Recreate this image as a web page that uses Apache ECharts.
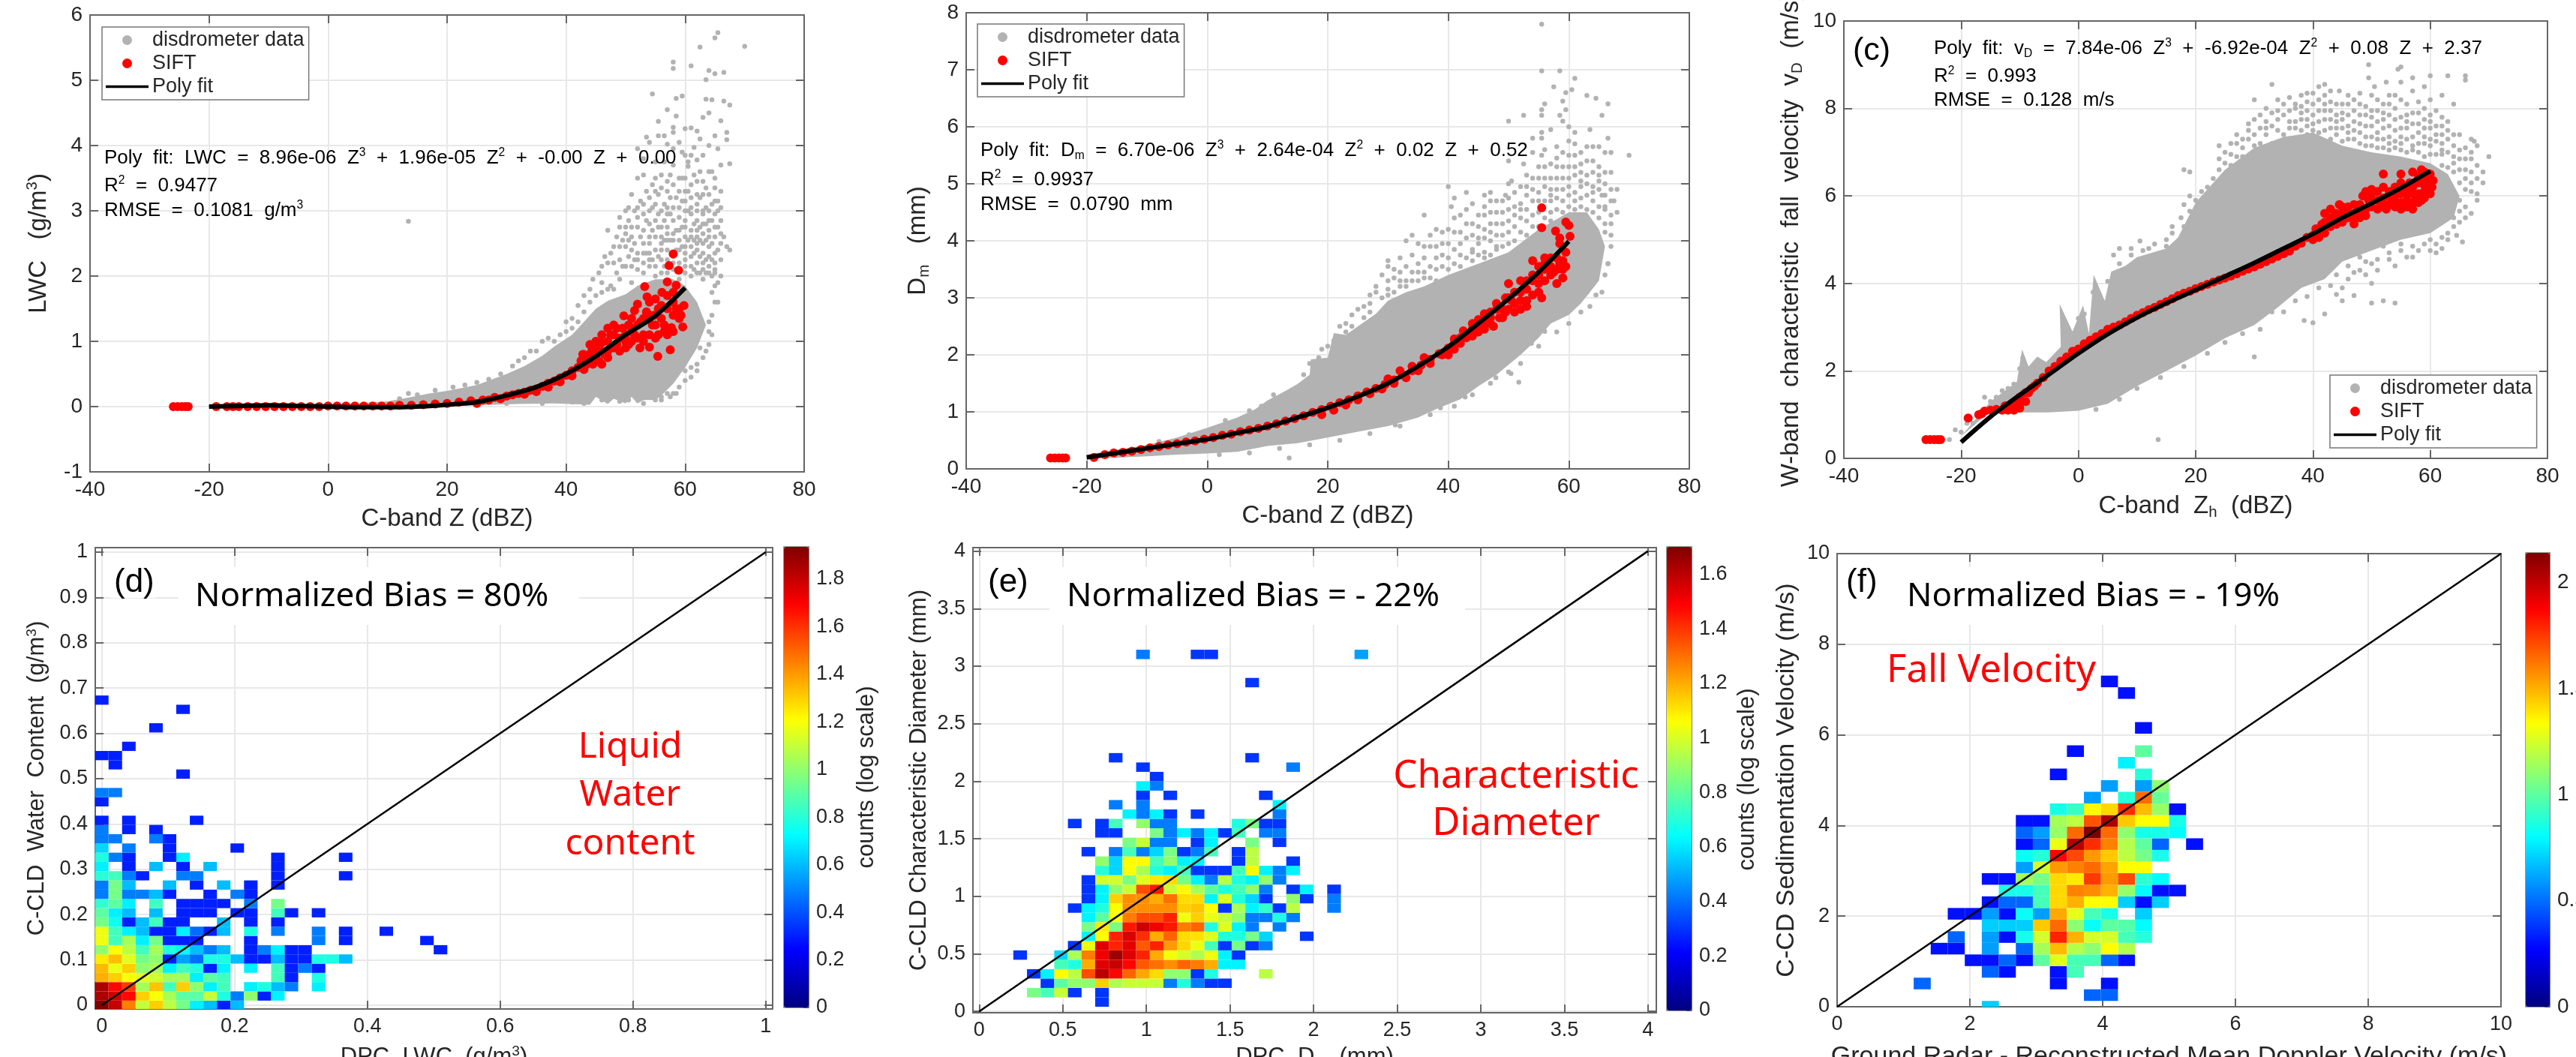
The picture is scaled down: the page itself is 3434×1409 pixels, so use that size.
<!DOCTYPE html>
<html><head><meta charset="utf-8">
<style>html,body{margin:0;padding:0;background:#fff;overflow:hidden}#c{width:3434px;height:1409px}</style>
<script src="https://cdn.jsdelivr.net/npm/echarts@6/dist/echarts.min.js"></script>
</head><body><div id="c"></div>
<script>
const LEGEND_NAMES = ['disdrometer data','SIFT','Poly fit'];

// Poly fit
const fitA = [[-20,0],[-15,.01],[-10,.02],[-5,.01],[0,0],[5,-.01],[10,-.01],[15,0],[20,.03],[25,.07],[30,.17],[35,.3],[40,.5],[45,.77],[50,1.1],[55,1.39],[60,1.82]];
const fitB = [[-20,.2],[-15,.28],[-10,.36],[-5,.44],[0,.52],[5,.63],[10,.74],[15,.9],[20,1.07],[25,1.27],[30,1.5],[35,1.8],[40,2.14],[45,2.55],[50,2.98],[55,3.45],[60,3.99]];
const fitC = [[-20,.37],[-15,.95],[-10,1.45],[-5,1.92],[0,2.4],[5,2.84],[10,3.22],[15,3.55],[20,3.85],[25,4.16],[30,4.47],[35,4.8],[40,5.13],[45,5.5],[50,5.83],[55,6.18],[60,6.57]];

// Dense part of the disdrometer cloud, outline
const coreA = [[-20,.02],[-5,.03],[5,.05],[10,.08],[13,.13],[17,.2],[20,.24],[25,.33],[30,.5],[33,.62],[36,.78],[38,.92],[41,1.1],[43,1.3],[45,1.5],[47,1.62],[50,1.72],[52,1.85],[55,1.95],[58,1.95],[60,1.85],[62,1.6],[63.5,1.25],[62,.9],[60,.6],[58,.35],[56,.17],[55,.1],[53,.1],[52,.05],[51,.15],[50,.05],[48,.12],[47,.04],[45,.15],[44,.03],[38,.05],[32,.04],[25,.02],[15,0],[0,-.01],[-20,-.01]];
const coreB = [[-20,.25],[-10,.42],[-5,.55],[0,.72],[5,.9],[8,1.05],[10,1.2],[13,1.37],[15,1.49],[17,1.65],[17.2,1.92],[20,1.95],[21,2.38],[23,2.35],[25,2.5],[28,2.72],[30,2.95],[33,3.1],[36,3.2],[40,3.4],[45,3.6],[50,3.8],[55,4.2],[60,4.5],[63,4.5],[65,4.2],[66,3.9],[65,3.3],[62,2.9],[60,2.7],[57,2.55],[55,2.3],[52,2.0],[48,1.65],[45,1.45],[42,1.22],[38,1.05],[35,.9],[30,.75],[25,.65],[20,.55],[15,.45],[10,.4],[5,.3],[0,.27],[-5,.25],[-10,.22],[-20,.17]];
const coreC = [[-20,.5],[-15,1.3],[-13,1.5],[-10.5,1.75],[-9.6,2.49],[-8.5,2.1],[-7,2.33],[-5.5,2.2],[-3,2.55],[-3.2,3.53],[-1,2.9],[.8,3.5],[1.8,2.85],[2.6,4.2],[4.5,3.6],[5.6,4.27],[8,4.4],[10,4.6],[15,4.8],[17,5.05],[20,5.85],[25,6.6],[30,7.1],[35,7.35],[40,7.45],[45,7.15],[50,7],[55,6.9],[60,6.75],[63,6.5],[65,6],[64,5.5],[60,5.15],[55,5],[50,4.75],[45,4.5],[42,4.1],[38,3.9],[34,3.45],[30,3.05],[25,2.75],[20,2.35],[15,2],[10,1.65],[5,1.25],[0,1.09],[-5,1.05],[-10,1.05],[-12,1.05],[-14,1.2]];

// Scattered disdrometer points outside the dense part
const grayA = [[65.5,5.73],[65,5.65],[70,5.52],[62.5,5.51],[58,5.28],[58,5.18],[61,5.22],[64,5.15],[65,5.1],[66.5,5.12],[63.5,5.01],[54.5,4.79],[59.5,4.76],[58.5,4.72],[63.5,4.71],[64.5,4.7],[66.5,4.68],[67.5,4.62],[57,4.55],[64,4.5],[58.5,4.45],[63,4.43],[55.5,4.37],[66,4.38],[58,4.28],[60,4.26],[61,4.27],[62,4.22],[58,4.2],[67,4.2],[55.5,4.15],[56.5,4.15],[53.5,4.13],[62.5,4.1],[67,4.09],[54,4.05],[57,4.02],[61.5,3.97],[65.5,3.95],[59.5,3.9],[52,3.95],[61,3.85],[53,3.8],[58,3.7],[60.5,3.68],[62,3.78],[67.5,3.72],[64,3.6],[56,3.55],[65,3.5],[52,3.5],[55,3.5],[60,3.5],[62,3.45],[57,3.45],[61,3.4],[65,3.35],[59,3.3],[54,3.2],[57.5,3.2],[63,3.25],[60,3.15],[65.5,3.15],[50,3],[50.5,3.05],[52,3.05],[55,3.1],[57,3.05],[60,3],[62,3.1],[66,3.05],[13.5,2.84],[47,2.7],[50,2.75],[50,2.65],[51,2.6],[52,2.75],[53,2.95],[54,2.8],[54,2.6],[55,2.85],[56,2.75],[56,3],[57,2.65],[58,2.85],[58,2.55],[59,3.05],[59,2.7],[60,2.85],[60,2.6],[61,2.95],[61,2.7],[62,2.85],[62,2.6],[63,2.95],[63,2.65],[64,2.85],[64,3],[65,2.75],[65,2.95],[66,2.5],[67,2.45],[67.5,2.4],[64,2.45],[65,2.2],[63,2.35],[61,2.45],[59,2.4],[57,2.4],[55,2.4],[53,2.5],[51,2.4],[49,2.45],[50,2.45],[52,2.35],[54,2.35],[56,2.5],[58,2.3],[60,2.35],[62,2.4],[48,2.2],[47,2.2],[46,2.15],[49,2.25],[50,2.15],[52,2.25],[54,2.15],[56,2.25],[58,2.2],[60,2.25],[62,2.2],[64,2.15],[65,2.1],[65.5,1.9],[63,1.95],[61,2],[59,1.95],[57,2.05],[55,2],[53,2.05],[51,1.9],[49,1.95],[46,1.9],[44,1.8],[43,1.7],[42,1.55],[41,1.35],[40,1.3],[37,1.05],[36,1],[34,.85],[32,.7],[65,1.6],[64.5,1.4],[63,1.25],[64,1.15],[63.5,.85],[62,.65],[61,.45],[58.5,.2],[60,.75],[47,.1],[57.5,.15],[56,.1],[53,.05]];
const grayA2 = [[44.5,1.95],[45.5,2.05],[46.5,2.3],[47.5,2.35],[47.5,1.85],[48.5,2.05],[48.5,2.6],[49,2.75],[49.5,2.15],[49.5,2.55],[50.5,2.3],[50.5,2.85],[51,2.15],[51,2.75],[51.5,2.5],[51.5,3],[52,2.1],[52.5,2.6],[52.5,3.15],[53,2.2],[53,2.7],[53.5,2.35],[53.5,3.3],[54,2.5],[54,3],[54.5,2.25],[54.5,2.7],[54.5,3.4],[55,2.15],[55,2.6],[55.5,2.95],[55.5,3.25],[56,2.4],[56,2.6],[56.5,2.15],[56.5,2.85],[56.5,3.1],[57,2.25],[57,2.75],[57,3.3],[57.5,2.55],[57.5,2.95],[58,2.1],[58,3.05],[58,3.4],[58.5,2.4],[58.5,2.7],[59,2.2],[59,2.55],[59,2.9],[59.5,3.15],[59.5,3.5],[60,2.15],[60,2.45],[60,2.75],[60.5,3],[60.5,3.3],[61,2.15],[61,2.6],[61,3.2],[61.5,2.35],[61.5,2.8],[61.5,3.55],[62,2.05],[62,2.5],[62,3],[62.5,2.3],[62.5,2.75],[62.5,3.2],[63,2.1],[63,2.5],[63,3],[63.5,2.25],[63.5,2.8],[63.5,3.35],[64,2.3],[64,2.6],[64.5,2],[64.5,2.5],[64.5,3.1],[65,1.85],[65,2.35],[65,2.6],[65.5,2.75],[65.5,3],[66,2.25],[66,2.65],[64.5,1.75],[65.5,1.6],[64,1.3],[64.5,1.1],[64,.95],[63,.75],[62.5,.9],[62,.55],[61,.6],[60,.55],[60,.4],[59,.3],[58,.2],[57,.2],[56,.15],[55,.1],[54.5,.15],[52,.1],[50.5,.1],[49,.08],[47,.1],[46,.1],[43,.05],[41,.07],[36,.05],[30,.05],[43,1.45],[42,1.3],[41,1.2],[40,1.15],[39,1.1],[38,1],[35,.85],[33,.75],[31,.62],[29,.5],[27,.42],[25,.37],[23,.33],[21,.3],[18,.25],[15,.18],[13.5,.2],[12,.12],[44,1.6],[45,1.7],[46,1.75],[47,1.8],[48,1.8]];
const grayA3 = [[48,2.45],[49,2.9],[50.5,2.55],[51.5,2.25],[52,2.9],[53,3.1],[53,2.35],[53.5,2.85],[54,2.25],[54.5,3.05],[55,3.3],[55.5,2.3],[55.5,2.75],[56,2.05],[56,3.35],[56.5,2.55],[57,2.55],[57,2.95],[57.5,2.15],[57.5,3.55],[58,2.65],[58.5,3.2],[59,2.1],[59,3.5],[59.5,2.45],[59.5,2.75],[60,2.05],[60,3.3],[60.5,2.55],[60.5,3.75],[61,2.3],[61,3.05],[61.5,2.1],[61.5,2.55],[62,2.7],[62,3.25],[62.5,2.05],[62.5,2.55],[62.5,3.6],[63,2.2],[63,2.8],[63,3.45],[63.5,2.05],[63.5,2.55],[63.5,3.05],[64,2.05],[64,2.7],[64,3.25],[64.5,2.25],[64.5,2.85],[64.5,3.6],[65,2.05],[65,3.15],[65.5,2.4],[66,2],[66,2.85],[66.5,2.6],[66,3.3],[55,3.75],[56.5,3.75],[58,3.95],[59,4.05],[60,3.85],[63,3.85],[64,4],[65,4.15],[66,3.7],[53,3.55],[51,3.25]];
const grayB = [[55.5,7.8],[55.5,6.98],[58.5,6.98],[61,6.85],[57.5,6.7],[59.5,6.6],[60.5,6.65],[63,6.55],[64.5,6.5],[56,6.4],[59,6.45],[55.5,6.3],[55.5,6.2],[52.5,6.2],[58.5,6.2],[59.5,6.3],[59,6.1],[66.5,6.4],[65.5,6.2],[50,6.1],[55.5,5.9],[57,5.95],[60,6],[61,5.9],[63.5,5.95],[55.5,5.8],[54,5.8],[60,5.75],[66.5,5.8],[63,5.65],[65,5.65],[66,5.55],[54,5.55],[55.5,5.5],[58,5.45],[60,5.5],[61,5.5],[64,5.4],[67,5.55],[70,5.5],[50,5.4],[52.5,5.35],[56,5.3],[58,5.3],[59,5.3],[62,5.35],[65,5.3],[67,5.2],[53,5.15],[55,5.1],[57,5.1],[60,5.1],[62,5.2],[64,5.2],[66,5],[68,4.9],[50,5],[40,4.95],[50.5,5.05],[52,4.95],[54,4.9],[56,4.95],[58,4.9],[60,4.95],[62,4.95],[64,4.85],[65.5,4.8],[67,4.7],[47,4.85],[49.5,4.8],[41,4.75],[43,4.85],[46,4.8],[48,4.7],[40.5,4.6],[44,4.65],[46,4.6],[51,4.6],[53,4.55],[54,4.7],[57,4.7],[42,4.45],[45,4.45],[47,4.5],[49,4.5],[52,4.4],[55,4.5],[36,4.45],[41,4.4],[43,4.3],[45,4.25],[47,4.3],[49,4.3],[50,4.15],[53,4.35],[66,4.3],[67,4.1],[37,4.1],[39,4.15],[41,4.15],[44,4.1],[46,4.05],[48,4.1],[33,4],[35,3.95],[37,3.9],[39,3.95],[42,3.95],[44,3.85],[46,3.8],[48,3.9],[50,3.95],[30,3.65],[30,3.55],[32,3.7],[34,3.75],[36,3.7],[38,3.7],[40,3.7],[42,3.75],[44,3.65],[32,3.45],[34,3.45],[36,3.45],[38,3.5],[28,3.2],[30,3.3],[31,3.35],[33,3.3],[35,3.3],[37,3.35],[27,2.9],[28,3.1],[26,2.85],[25,2.8],[24,2.7],[23,2.55],[22,2.5],[50.4,1.67],[51.7,1.52],[38.7,1.07],[31.2,.77],[13.6,.19],[42.8,1.26],[50.6,1.96],[47.9,1.6],[56,2.41],[53.8,2.2],[64,3.3],[63,3.1],[66.5,3.6]];
const grayB2 = [[29,3],[30,3.05],[31,3.1],[32,3.2],[33,3.2],[34,3.3],[35,3.45],[36,3.35],[37,3.55],[38,3.3],[39,3.55],[40,3.5],[41,3.6],[42,3.55],[43,3.7],[44,3.8],[45,3.75],[45,3.95],[46,3.7],[46,4.2],[47,3.75],[47,4],[48,3.85],[48,4.3],[49,3.9],[49,4.1],[50,4.35],[50,4.55],[51,4],[51,4.25],[52,4.15],[52,4.65],[53,4.1],[53,4.8],[54,4.25],[54,4.45],[55,4.25],[55,4.7],[56,4.4],[56,4.7],[57,4.35],[57,4.5],[57,4.9],[58,4.55],[58,4.75],[59,4.5],[59,4.7],[59,5.1],[60,4.6],[60,4.8],[61,4.55],[61,4.7],[61,5.15],[62,4.6],[62,4.75],[63,4.55],[63,4.8],[63,5],[64,4.5],[64,4.7],[65,4.4],[65,4.6],[65,5.05],[66,4.15],[66,4.55],[66,4.8],[67,3.9],[67,4.45],[67.5,4.7],[66.5,3.6],[66,3.4],[65.5,3.1],[64.5,3.05],[63.5,2.85],[62,2.75],[60,2.55],[58,2.4],[55,2.15],[52,1.85],[50,1.7],[47,1.5],[44,1.3],[41,1.1],[37,.95],[32,.75],[27,.62],[22,.5],[17,.42],[12,.36],[7,.28],[2,.25],[16,1.65],[17,1.85],[18,1.75],[18.5,1.95],[19,2.1],[20,2.15],[21,2.25],[22,2.3],[23,2.4],[24,2.5],[26,2.65],[27,2.75],[11,1.3],[9,1.1],[7,1.02],[3,.85],[-3,.6],[-8,.48]];
const grayB3 = [[38,3.9],[40,3.95],[41,3.85],[43,4.05],[43,4.55],[44,4.3],[45,4.05],[46,4.45],[47,4.15],[47,4.7],[48,4.5],[49,4.7],[50,4.75],[51,4.45],[51,4.85],[52,4.55],[53,4.95],[54,5.1],[55,4.85],[55,5.3],[56,5.1],[56,5.6],[57,4.8],[57,5.35],[58,5.1],[58,5.65],[59,4.9],[59,5.55],[60,5.3],[61,4.85],[61,5.3],[61,5.7],[62,5.05],[62,5.55],[63,5.15],[63,5.4],[64,4.95],[64,5.65],[65,4.9],[65,5.15],[66,5.2],[66,4.6],[67,4.9],[34,4.1],[35,3.6],[36,3.9],[38,4.2],[39,3.75],[40,4.2],[42,4.15],[33,3.55],[31,3.5],[29,3.4],[30,3.15],[32,3.3],[27,3.05],[67,4.3],[68,4.5]];
const grayC = [[49.5,9],[49.5,8.7],[54.5,8.9],[55,8.95],[50.5,8.5],[52.5,8.6],[55,8.6],[57,8.7],[60,8.75],[59,8.5],[63,8.75],[66,8.75],[66,8.65],[33,8.55],[41,8.5],[42,8.55],[39,8.35],[42,8.3],[44.5,8.4],[46,8.3],[48,8.1],[51,8.2],[53,8.3],[55,8.2],[57,8.4],[60,8.2],[62,8.3],[64,8.1],[30,8.2],[37,8],[40,8.1],[42,7.95],[45,7.9],[48,7.85],[50,7.95],[52,7.9],[54,8],[56,7.85],[58,7.9],[60,7.85],[62,7.8],[36,7.7],[38,7.75],[41,7.7],[43,7.75],[46,7.6],[49,7.6],[51,7.7],[53,7.6],[55,7.55],[57,7.65],[59,7.55],[61,7.6],[63,7.5],[65,7.4],[67,7.3],[29,7.65],[32,7.4],[34,7.5],[39,7.4],[44,7.4],[47,7.3],[50,7.35],[52,7.3],[54,7.25],[56,7.3],[58,7.2],[60,7.3],[62,7.2],[64,7.15],[66,7.1],[67.5,7.25],[68,7.15],[27,7.2],[24,7.15],[30,7.15],[26,6.95],[33,7.2],[37,7.3],[28,6.9],[62,6.95],[64,6.9],[66,6.85],[68,6.7],[70,6.9],[67,6.55],[65,6.6],[68,6.4],[69,6.3],[67,6.1],[65,5.9],[68,5.9],[67,5.6],[66,5.75],[64,5.5],[63,5.15],[64.5,5.1],[65.5,4.95],[62,4.8],[61,4.9],[58,4.75],[55,4.9],[57,4.6],[53,4.7],[51,4.55],[49,4.5],[47,4.25],[50,4],[47,3.72],[52,3.6],[54,3.55],[50,3.55],[45,3.9],[42,3.3],[40,3.1],[38.5,3.15],[30,2.32],[18,6.6],[19,6.55],[21,6.1],[19,6],[20,5.9],[18,5.8],[17.5,5.5],[19,5.35],[20,5.2],[15,5],[16,5.15],[17,4.9],[14,4.7],[10.5,4.97],[12,4.8],[9,4.8],[7,4.8],[6,4.65],[22,6.2],[23,6.4],[24,6.6],[22,5.9],[13.6,.43],[-20,.6],[-21,.65],[-19,.8],[-18,.8],[-17,1],[-16,1.4],[-15,1.3],[-14,1.4],[-13,1.55],[-12,1.6],[-11,1.7],[-22,.43]];
const grayC2 = [[22,6],[23,6.2],[24,6.35],[25,6.75],[26,6.7],[27,6.9],[28,7.1],[29,7.3],[30,7.4],[31,7.55],[31,7.2],[32,7.7],[33,7.6],[33,7.9],[34,7.75],[35,7.4],[35,7.85],[36,7.95],[37,7.55],[37,7.7],[38,7.5],[38,8.05],[39,7.6],[39,7.95],[40,7.5],[40,7.85],[41,7.45],[41,7.95],[42,7.5],[42,7.75],[43,7.3],[43,7.55],[43,8.15],[44,7.55],[44,7.85],[45,7.25],[45,7.55],[45,8.1],[46,7.3],[46,7.85],[47,7.5],[47,7.95],[48,7.2],[48,7.45],[49,7.15],[49,7.85],[50,7.15],[50,7.6],[51,7.1],[51,7.45],[52,7.1],[52,7.55],[53,7.05],[53,7.35],[53,7.85],[54,7.1],[54,7.5],[55,7.05],[55,7.35],[55,7.8],[56,7],[56,7.55],[57,7.05],[57,7.35],[58,7],[58,7.45],[59,6.9],[59,7.2],[59,7.75],[60,6.95],[60,7.55],[61,6.95],[61,7.25],[62,6.7],[62,7.4],[63,6.65],[63,7],[64,6.55],[64,6.75],[65,6.3],[66,6.4],[66,6.15],[67,6.3],[64,5.75],[65,5.4],[64,5.3],[62,5.05],[60,5],[60,4.75],[57,4.85],[55,4.75],[53,4.55],[52,4.85],[50,4.45],[48,4.6],[48,4.3],[46,4.4],[44,4.2],[43,3.95],[41,3.9],[39,3.7],[37,3.6],[35,3.35],[33,3.35],[31,2.95],[28,2.85],[25,2.65],[22,2.4],[18,2.1],[14,1.85],[10,1.6],[7,1.35],[3,1.12],[24,6],[22,5.7],[19,5.65],[18,5.3],[16,5.3],[15,4.85],[13,4.9],[11,4.75],[-9.5,2.3],[-10,2.05],[-6,2.15],[-2,2.8],[0,3.2],[1,3.3],[2.5,3.8],[5,4.05],[7,4.45],[9,4.65]];
const grayC3 = [[24,6.85],[25,7],[26,7.2],[27,7.4],[28,7.3],[29,7.5],[30,7.75],[31,7.85],[32,7.55],[32,8],[34,7.95],[34,8.2],[35,8.1],[36,7.55],[36,8.25],[37,8.1],[38,7.9],[38,8.3],[39,7.75],[39,8.15],[40,7.65],[40,8.35],[41,8.2],[42,8.1],[43,7.95],[43,8.4],[44,7.7],[44,8.1],[45,7.75],[46,7.45],[46,8.1],[47,7.7],[47,8.2],[48,7.65],[48,8.35],[49,7.35],[49,8.05],[50,7.8],[50,8.3],[51,7.95],[51,7.3],[52,7.75],[52,8.1],[53,7.2],[53,8.1],[54,7.75],[54,8.3],[55,7.2],[56,7.7],[56,8.1],[57,7.15],[57,7.9],[58,7.65],[58,8.15],[59,7.35],[59,8],[60,7.15],[60,7.7],[61,7.4],[61,7.95],[62,7.05],[62,7.6],[63,7.3],[63,7.7],[64,7.4],[65,7.05],[65,6.85],[66,6.6],[67,6.85],[67,7],[68,6.05],[69,6.55],[66,5.5],[65,5.65],[63,5],[61,4.7],[59,4.9],[56,4.6],[54,4.4],[51,4.3],[49,4.2],[46,4.1],[45,3.6],[44,3.75]];

// SIFT points
const siftA = [[-26,0],[-25.3,0],[-24.6,0],[-24,0],[-23.5,0],[-18.8,0],[-17,0],[-16,0],[-15,0],[-13.5,0],[-12,0],[-10.5,0],[-9,0],[-7.5,0],[-6,0],[-4.5,0],[-3,0],[-1.5,0],[0,.01],[1.5,.01],[3,.01],[4.5,.01],[6,.01],[7.5,.01],[9,.01],[10.5,.01],[12,.02],[14,.02],[16,.03],[18,.04],[20,.05],[22,.07],[24,.09],[26,.1],[28,.14],[30,.16],[31,.18],[32,.2],[33,.22],[34,.25],[35,.27],[36,.31],[37,.36],[38,.39],[39,.44],[40,.48],[41,.55],[42,.6],[42.5,.7],[43,.7],[43,.8],[44,.75],[44,.95],[45,.8],[45,1],[46,.65],[46,1.1],[46,.85],[47,1],[47,.85],[48,.9],[48,1.1],[48.5,1.2],[49,1.05],[49.7,1.39],[50,.9],[50,1.1],[50.5,1.25],[51,1],[51,1.2],[51.5,1.47],[52,1.57],[52,1.25],[52.4,.9],[53,1.35],[53,1.1],[53.2,1.84],[53.6,1.68],[54,.91],[54,1.1],[54,1.4],[54,1.6],[55,1.25],[55,1.05],[55.4,.77],[55.5,1.5],[56.1,1.75],[56,1.35],[56.5,1.15],[57,1.91],[57,1.5],[57.3,2.16],[57.5,.87],[57.7,1.21],[58,1.4],[58,1.6],[58,2.34],[58.5,1.86],[58.9,2.09],[59,1.35],[59.6,1.22],[59.8,1.55]];
const siftA2 = [[44.5,.65],[45.5,.7],[46.5,.8],[47,.75],[47.5,1.1],[48.5,.95],[49,.85],[49.5,1.2],[50,1],[50.5,.95],[51,1.35],[51.5,1.1],[52,1.05],[52.5,1.3],[53,1],[53.5,1.45],[54.5,1.25],[55,1.65],[55.5,1.1],[56,1.55],[56.5,1.25],[57,1.1],[57,1.7],[58,1.15],[58.5,1.5],[59,1.5],[59.3,1.4],[58,1.75],[54.8,1.4],[48,1.25],[47,1.2],[46,.98],[45,.9],[44.3,.85],[43.5,.65],[42.8,.8],[25,.05],[27,.1],[29,.12],[33,.19],[35,.23],[37,.3],[39,.38],[41,.47],[43,.57]];
const siftB = [[-26,.19],[-25.3,.19],[-24.6,.19],[-24,.19],[-23.5,.19],[-18.8,.2],[-17,.25],[-15.5,.28],[-14,.29],[-12.5,.31],[-11,.34],[-9.5,.37],[-8,.39],[-6.5,.42],[-5,.44],[-3.5,.47],[-2,.49],[-.5,.52],[1,.55],[2.5,.59],[4,.61],[5.5,.65],[7,.68],[8.5,.71],[10,.75],[11.5,.79],[13,.84],[14.5,.88],[16,.93],[17.5,.99],[19,1.04],[20.5,1.1],[22,1.16],[23.5,1.21],[25,1.28],[26.5,1.35],[28,1.41],[29.5,1.48],[31,1.56],[32.5,1.64],[34,1.72],[35.5,1.82],[37,1.92],[38.5,2.02],[40,2.12],[41,2.2],[42,2.3],[43,2.37],[44,2.45],[45,2.5],[46,2.58],[46,2.72],[47,2.55],[47,2.75],[48,2.8],[49,2.8],[49.5,3],[50,3.25],[50,3],[51,2.9],[52,2.95],[52,3.3],[53,2.95],[53,3.3],[54,3.3],[54,3.65],[55,3.1],[55,3.4],[55.5,4.23],[55.5,4.58],[56,3.5],[56,3.6],[57,3.7],[57.5,3.45],[57.8,4.17],[58,3.7],[58.5,4.05],[58.5,3.95],[59,3.65],[59,3.5],[59.5,3.8],[59.5,4.33],[60,4.27],[60.2,4.08]];
const siftB2 = [[40,2],[41,2.1],[41,2.28],[42,2.2],[42.5,2.42],[43,2.3],[44,2.33],[44,2.55],[45,2.4],[45,2.62],[46,2.45],[47,2.65],[47.5,2.5],[48,2.9],[48.5,2.65],[49,2.65],[49.5,2.75],[50,2.8],[50.5,2.95],[51,2.75],[51,3.1],[52,2.8],[52,3.1],[53,2.85],[53,3.15],[54,3.05],[54,3.4],[55,3.25],[55,3.55],[55.5,3],[56,3.3],[56,3.7],[57,3.4],[57,3.55],[58,3.25],[58,3.5],[58.5,3.6],[59,3.35],[59.5,3.55],[39,2],[37,1.85],[35,1.72],[33,1.6],[31,1.5],[29,1.4],[27,1.32],[25,1.21],[23,1.12],[21,1.03],[19,.95],[36,1.95],[34,1.8],[32,1.72],[30,1.58]];
const siftC = [[-26,.43],[-25.3,.43],[-24.6,.43],[-24,.43],[-23.5,.43],[-18.8,.92],[-17,1],[-16.5,1.02],[-16,1.08],[-15,1.1],[-14,1.12],[-13,1.1],[-12.5,1.2],[-12,1.1],[-11.5,1.15],[-11,1.2],[-10.5,1.3],[-10,1.4],[-9,1.5],[-8,1.6],[-7,1.72],[-6,1.85],[-5,2],[-4,2.1],[-3,2.22],[-2,2.32],[-1,2.45],[0,2.5],[1,2.62],[2,2.7],[3,2.78],[4,2.85],[5,2.95],[6,3],[7,3.05],[8,3.12],[9,3.2],[10,3.27],[11,3.33],[12,3.4],[13,3.45],[14,3.52],[15,3.58],[16,3.65],[17,3.72],[18,3.78],[19,3.82],[20,3.88],[21,3.93],[22,3.98],[23,4.03],[24,4.08],[25,4.12],[26,4.17],[27,4.22],[28,4.28],[29,4.33],[30,4.38],[31,4.44],[32,4.5],[33,4.56],[34,4.62],[35,4.68],[36,4.74],[37,4.85],[38,4.92],[39,5.05],[40,5.1],[41,5.2],[42,5.4],[43,5.5],[43,5.7],[44,5.35],[44,5.6],[45,5.6],[46,5.5],[46,5.75],[47,5.36],[47,5.6],[48,5.8],[48,5.5],[49,5.7],[49,6.1],[50,6.15],[50,5.75],[51,5.7],[51,6.1],[52,6.2],[52,6.5],[52,5.8],[53,5.8],[53,6],[54,5.75],[54,6],[55,5.7],[55,6.3],[55,6.5],[56,5.9],[56,6.2],[57,5.7],[57,6.05],[57,6.55],[58,5.85],[58,6.3],[58.5,6.6],[59,6.1],[59,6.4],[60,6.2],[60,6.5],[60.5,6.35],[59,5.95]];
const siftC2 = [[40,5],[40.5,5.25],[41,5.05],[41.5,5.35],[42,5.15],[42,5.6],[43,5.3],[44,5.45],[44.5,5.8],[45,5.4],[45,5.75],[46,5.6],[47,5.5],[47,5.8],[48,5.65],[48.5,6],[49,5.55],[49.5,5.9],[50,5.9],[50,6.05],[51,5.9],[51.5,5.75],[52,5.95],[52.5,5.7],[53,6.1],[53.5,5.9],[54,5.85],[54,6.2],[55,5.85],[55,6.05],[55.5,6.2],[56,5.75],[56,6.05],[56.5,6.3],[57,5.85],[57,6.2],[57.5,6],[58,6.05],[58,6.45],[58.5,5.9],[59,6.25],[59,6.55],[60,6.05],[60,6.35],[60.3,6.2],[-10,1.15],[-11,1.1],[-10,1.25],[-9,1.3],[-8.5,1.5],[-7.5,1.65]];

// 2-D histogram rows: [row, first column, log10 count per column..., 0 = empty bin]
const rowsD = [
[0,0,1.93,1.8,1.45,1.1,1.3,1.08,.95,.7,.6,.3,.6],
[1,0,1.85,1.78,1.68,1.3,1.2,1.04,.9,.9,1.1,.78,.48,1,.3,.7],
[2,0,1.85,1.68,1.58,1.04,1.32,.85,1.3,1,.7,.85,0,.7,.78,.6,.48,0,.7],
[3,0,1.36,1.3,1.2,1.15,1.12,1.04,1.04,.7,.9,.85,0,0,0,.85,.3,0,.78],
[4,0,1.34,1.17,1.3,1,1.04,.7,.85,.78,.3,.7,0,.7,0,.85,.3,.48,.3],
[5,0,1.25,1.33,1.15,.95,1,.3,.55,.45,.78,.78,.6,.3,.3,.6,.3,.3,.78,.78,.6],
[6,0,1,1.2,1.08,.85,1.04,.78,.72,.6,.48,.6,0,.3,.48,.7,.3,.3],[6,25,.3],
[7,0,1.18,.85,1.04,.7,.95,.3,.3,.3,0,0,0,.3,0,0,0,0,.48,0,.3,0,0,0,0,0,.3],
[8,0,1.18,.85,.7,.6,.3,.3,.7,.45,.3,.6,0,.78,0,.48,0,0,.48,0,.3,0,0,.3],
[9,0,.95,.75,.3,.6,.85,.3,.3,0,0,.6,0,.3,0,.3],
[10,0,.9,.7,.6,0,.6,0,.3,.3,.3,0,.3,.3,0,.85,.3,0,.3],
[11,0,.82,.9,.7,0,.85,0,.3,.3,.3,.3,0,.48,0,.95],
[12,0,.48,.95,.48,.48,.6,.3,0,0,.3,0,.48,.3],
[13,0,.48,.95,.6,0,0,.6,0,.3,0,.6,0,.3,0,.3],
[14,0,.8,.85,.48,.3,0,0,.48,.48,0,0,0,0,0,.3,0,0,0,0,.3],
[15,0,.7,0,.3,0,.6,0,.3,0,.6,0,0,0,0,.3],
[16,0,.78,.48,.3,0,0,.3,.7,0,0,0,0,0,0,.3,0,0,0,0,.3],
[17,0,.65,0,.48,0,0,.3,0,0,0,0,.3],
[18,0,.48,.48,0,0,.48,.3],[19,0,.48,0,.3,0,.3],[20,0,.3,0,.3,0,0,0,0,.3],
[22,0,.3],[23,0,.48,.48],[25,6,.3],[26,1,.3],[27,0,.3,.3],[28,2,.3],[30,4,.3],[32,6,.3],[33,0,.3]];
const rowsE = [
[1,9,.3],
[2,4,.84,.75,.97,.3,0,.3],
[3,5,.3,.79,.88,.88,1.14,.93,.97,.97,.97,.42,.69,.42,.3,.3],
[4,4,.3,.62,1.06,.95,1.36,1.6,1.48,1.32,1.21,1.12,.88,.88,.3,.69,0,0,0,.95],
[5,6,.75,.69,1.2,1.54,1.58,1.48,1.34,1.3,1.25,1.32,1.28,1.2,.62,.62],
[6,3,.3,0,0,.57,.92,1.28,1.51,1.65,1.54,1.43,1.2,1.04,.99,.93,1.04,.62,.3],
[7,7,.3,1.03,1.54,1.43,1.53,1.34,1.43,1.23,1.13,1.03,.75,.3,.84,.3,.42],
[8,8,.62,1.06,1.43,1.55,1.41,1.2,1.32,1.12,1.11,1.01,.69,.69,.84,.57,0,0,.3],
[9,8,.84,1.1,.84,1.45,1.57,1.51,1.45,1.28,1.32,.69,1.01,.62,.42,0,.42],
[10,8,.62,.79,1.06,1.28,1.36,1.36,1.43,1.04,1.14,1.03,.97,.88,.42,.42,.69,.42],
[11,7,.3,.62,.69,1.06,1.25,1.25,1.25,1.25,1.14,1.16,1.06,.3,.92,.62,.72,.3,.95,0,0,.42],
[12,8,.3,.62,1.14,1.25,1.25,1.2,1.3,1.12,1.12,.62,1.01,.69,.57,.3,0,.88,.3,0,.42],
[13,8,.3,.62,.88,.97,1.36,1.45,.97,1.07,.92,.79,.69,.75,.88,.42,0,.3,.62,0,.3],
[14,8,.3,.99,.99,.84,1.01,1.1,1.12,.84,.62,.42,.95,.69,.62,.88,.42],
[15,9,.7,.57,1.06,.92,.69,.62,.75,.3,.3,.3,.75,1.07,.62,.42,.62],
[16,9,.88,.57,1.06,1.06,.75,.88,.62,.62,0,0,.3,.95,0,0,.3],
[17,8,.3,0,.42,.75,.42,.57,.84,.3,.42,.75,0,.3,.95],
[18,11,.84,.97,.42,.42,0,.3,.62,0,0,.84,0,.3],
[19,9,.3,.3,0,0,.84,.42,.62,.42,.62,.3,.75,0,.42,.42],
[20,7,.3,0,.3,.75,0,.88,.42,.42,0,0,0,0,.69,.84,.3,.3],
[21,11,.62,.42,.62,.3,0,.3,0,0,0,0,0,.42],
[22,10,.42,0,.42],[22,22,.62],
[23,12,.3,0,.3],[23,21,.3],
[24,12,.62,.42],[25,13,.3],[26,12,.3],[26,23,.42],[27,10,.3],[27,20,.3],[35,20,.3],
[38,12,.42],[38,16,.3,.3],[38,28,.48]];
const rowsF = [
[0,9,.7],[1,15,.48,.48],[2,5,.48],[2,13,.3,0,0,.3],
[3,9,.48,.3,0,0,.3,.95],
[4,8,.3,.3,.48,.3,1,1.27,.95,.95,.48,.3],
[5,6,.3,.3,0,.6,0,.48,1.15,1.48,1.18,1.1,1.34,1.18],
[6,7,.48,0,.6,.3,.85,1.25,1.8,1.5,1.25,1.25,.95,.88],
[7,9,.7,.7,.7,1.45,1.65,1.1,.82,1,.98,.8],
[8,7,.3,.3,.6,.3,.82,.6,1.52,1.28,.95,.85,0,.7],
[9,9,.3,.48,.48,.95,1.42,1.5,1.34,1.34,.7,.3,.7],
[10,10,.85,.85,.95,1.42,1.6,1.58,1.5,1.12,.8,.3,.3],
[11,9,.3,.3,1.15,1.05,1.42,1.38,1.75,1.55,1.72,.9,.8],
[12,11,.6,1.25,1.55,1.6,1.65,1.53,1.34,1.34],
[13,11,.82,.88,1.87,1.72,1.55,1.45,1.2,1.05,.85],
[14,11,.3,.48,1.3,2.02,1.78,1.6,1.18,1,.48,0,.3],
[15,11,.48,.6,1.12,1.65,2.14,1.65,1.1,.85,.85,.8],
[16,11,.3,.3,1.15,1.2,1.7,2.05,1.45,1.34,1.34,.85],
[17,13,.85,.92,1.35,1.42,1.78,1.48,1.12,.3],
[18,15,.6,0,.88,1.65,1.02],
[19,16,.6,0,.6,1.1],[20,13,.3],[20,18,.88],[21,17,.78],[22,14,.3],[22,18,1],[24,18,.3],[27,17,.3],[28,16,.3]];

// Colour-bar tick labels and axis ticks
const cbTicksD = [0,.2,.4,.6,.8,1,1.2,1.4,1.6,1.8];
const cbTicksE = [0,.2,.4,.6,.8,1,1.2,1.4,1.6];
const cbTicksF = [0,.5,1,1.5,2];
const ticksD_X = [0,.2,.4,.6,.8,1];
const ticksD_Y = [0,.1,.2,.3,.4,.5,.6,.7,.8,.9,1];
const ticksE = [0,.5,1,1.5,2,2.5,3,3.5,4];
const JET = ['#00007f','#0000ff','#007fff','#00ffff','#7fff7f','#ffff00','#ff7f00','#ff0000','#7f0000'];

const FONT='"Liberation Sans",Arial,sans-serif', GRAY='#b2b2b2', AX='#666', TXT='#262626';
const grid=[],xAxis=[],yAxis=[],series=[],legend=[],visualMap=[],graphic=[];

function ticks(vals){ return vals ? {customValues:vals} : {}; }
function RICH(s){return {
  n:{fontSize:s,fontFamily:FONT,color:TXT},
  up:{fontSize:s*.62,fontFamily:FONT,color:TXT,verticalAlign:'top',lineHeight:s*1.1},
  dn:{fontSize:s*.62,fontFamily:FONT,color:TXT,verticalAlign:'bottom',lineHeight:s*1.1}
};}
function addAxes(g,o){
  const gi=grid.length; grid.push({left:g[0],top:g[1],width:g[2]-g[0],height:g[3]-g[1],containLabel:false,outerBoundsMode:'none'});
  const line={show:true,onZero:false,lineStyle:{color:AX,width:2}};
  const tick=v=>Object.assign({show:true,inside:true,length:11,lineStyle:{color:AX,width:2}},ticks(v));
  const sp=v=>Object.assign({show:true,lineStyle:{color:'#e8e8e8',width:2}},ticks(v));
  const lab=(v,fs,mg)=>Object.assign({color:TXT,fontSize:fs||28,fontFamily:FONT,margin:mg||10,formatter:x=>String(x)},ticks(v));
  const nm=(n,gap)=>({name:n,nameLocation:'middle',nameGap:gap,nameTextStyle:{color:TXT,fontFamily:FONT,fontSize:o.nameSize||33,rich:RICH(o.nameSize||33)}});
  const base=a=>({gridIndex:gi,type:'value',min:a.min,max:a.max,interval:a.interval});
  const xi=xAxis.length, yi=yAxis.length;
  xAxis.push(Object.assign(base(o.x),{position:'bottom',axisLine:line,axisTick:tick(o.x.t),splitLine:sp(o.x.t),axisLabel:lab(o.x.t,o.fs,o.x.mg)},nm(o.x.n,o.x.gap)));
  xAxis.push(Object.assign(base(o.x),{position:'top',axisLine:line,axisTick:tick(o.x.t),splitLine:{show:false},axisLabel:{show:false}}));
  yAxis.push(Object.assign(base(o.y),{position:'left',axisLine:line,axisTick:tick(o.y.t),splitLine:sp(o.y.t),axisLabel:lab(o.y.t,o.fs,o.y.mg)},nm(o.y.n,o.y.gap)));
  yAxis.push(Object.assign(base(o.y),{position:'right',axisLine:line,axisTick:tick(o.y.t),splitLine:{show:false},axisLabel:{show:false}}));
  return [xi,yi];
}
function scatterPanel(g,o,core,gray,sift,fit,leg){
  const [xi,yi]=addAxes(g,o);
  const ax={xAxisIndex:xi,yAxisIndex:yi};
  series.push(Object.assign({type:'custom',name:'cloud',silent:true,coordinateSystem:'cartesian2d',encode:{x:0,y:1},data:core,z:2,
    renderItem:(p,api)=>p.dataIndex?null:{type:'polygon',shape:{points:core.map(q=>api.coord(q))},style:{fill:GRAY}}},ax));
  series.push(Object.assign({type:'scatter',name:'disdrometer data',data:gray,symbolSize:6.5,itemStyle:{color:GRAY,opacity:1},z:3,silent:true},ax));
  series.push(Object.assign({type:'scatter',name:'SIFT',data:sift,symbolSize:12,itemStyle:{color:'#ff0000',opacity:1},z:4,silent:true},ax));
  series.push(Object.assign({type:'line',name:'Poly fit',data:fit,smooth:.3,symbol:'none',showSymbol:false,lineStyle:{color:'#000',width:6},itemStyle:{color:'#000'},z:5,silent:true},ax));
  legend.push({data:[LEGEND_NAMES[0],LEGEND_NAMES[1],{name:LEGEND_NAMES[2],icon:'path://M0,0L100,0L100,0L0,0Z M0,3.5H100V9.5H0Z M0,13L100,13L100,13L0,13Z',itemStyle:{color:'#000'}}],
    left:leg[0],top:leg[1],orient:'vertical',itemWidth:57,itemHeight:13,itemGap:4,padding:[4,6,4,5],
    selectedMode:false,backgroundColor:'#fff',borderColor:'#777',borderWidth:1.5,borderRadius:0,
    textStyle:{fontSize:27,fontFamily:FONT,color:TXT}});
}
function histPanel(g,o,rows,bin,cmax,cb,cbT){
  const [xi,yi]=addAxes(g,o);
  const cells=[];
  rows.forEach(r=>{for(let k=2;k<r.length;k++) if(r[k]>0) cells.push([(r[1]+k-2)*bin,r[0]*bin,r[k]]);});
  const si=series.length, top=Math.round(o.x.max>5?10:o.x.max);
  series.push({type:'custom',name:'counts',silent:true,xAxisIndex:xi,yAxisIndex:yi,encode:{x:0,y:1},data:cells,z:3,
    renderItem:(p,api)=>{const x=api.value(0),y=api.value(1),a=api.coord([x-bin/2,y+bin/2]),b=api.coord([x+bin/2,y-bin/2]);
      const bottom=p.coordSys.y+p.coordSys.height, bb=Math.min(b[1],bottom);
      return {type:'rect',shape:{x:a[0],y:a[1],width:b[0]-a[0],height:bb-a[1]},style:{fill:api.visual('color')}};}});
  series.push({type:'line',name:'1:1',silent:true,xAxisIndex:xi,yAxisIndex:yi,data:[[0,0],[top,top]],symbol:'none',lineStyle:{color:'#000',width:2.5},z:5});
  visualMap.push({type:'continuous',seriesIndex:si,dimension:2,min:0,max:cmax,left:cb[0],top:cb[1],itemWidth:cb[2]-cb[0],itemHeight:cb[3]-cb[1],padding:0,
    calculable:false,realtime:false,hoverLink:false,showLabel:false,text:null,inRange:{color:JET},outOfRange:{color:'#fff'}});
  const gi=grid.length; grid.push({left:cb[0],top:cb[1],width:cb[2]-cb[0],height:cb[3]-cb[1],show:true,borderColor:'#777',borderWidth:1.5,backgroundColor:'transparent',outerBoundsMode:'none'});
  xAxis.push({gridIndex:gi,type:'value',min:0,max:1,show:false});
  yAxis.push({gridIndex:gi,type:'value',min:0,max:cmax,position:'right',
    axisLine:{show:true,onZero:false,lineStyle:{color:'#777',width:1.5}},
    axisTick:{show:true,inside:true,length:7,customValues:cbT,lineStyle:{color:'#555',width:2}},splitLine:{show:false},
    axisLabel:{customValues:cbT,color:TXT,fontSize:o.cbFs||27,fontFamily:FONT,margin:10,formatter:x=>String(x)}});
}
function note(x,y,text,size,color,align){
  const s=size||26,c=color||'#000';
  graphic.push({type:'text',x,y,z:100,silent:true,style:{text,fontSize:s,fontFamily:FONT,fill:c,align:align||'left',verticalAlign:'middle',
    rich:{n:{fontSize:s,fontFamily:FONT,color:c},up:{fontSize:s*.6,fontFamily:FONT,color:c,verticalAlign:'top',lineHeight:s*1.15},dn:{fontSize:s*.6,fontFamily:FONT,color:c,verticalAlign:'bottom',lineHeight:s*1.15}}}});
}
function wbox(x0,y0,x1,y1){graphic.push({type:'rect',z:50,silent:true,shape:{x:x0,y:y0,width:x1-x0,height:y1-y0},style:{fill:'#fff'}});}
function big(x,y,text,size,color,align){
  graphic.push({type:'text',x,y,z:100,silent:true,style:{text,fontSize:size,fontFamily:'"Noto Sans",'+FONT,fill:color||'#000',align:align||'left',verticalAlign:'middle'}});
}

// --- top row
scatterPanel([120,20,1072,629],{x:{min:-40,max:80,interval:20,n:'C-band Z (dBZ)',gap:46},y:{min:-1,max:6,interval:1,n:'{n|LWC   (g/m}{up|3}{n|)}',gap:50}},coreA,grayA.concat(grayA2,grayA3),siftA.concat(siftA2),fitA,[136,36]);
scatterPanel([1288,17,2252,625],{x:{min:-40,max:80,interval:20,n:'C-band Z (dBZ)',gap:46},y:{min:0,max:8,interval:1,n:'{n|D}{dn|m}{n|   (mm)}',gap:46}},coreB,grayB.concat(grayB2,grayB3),siftB.concat(siftB2),fitB,[1303,32]);
scatterPanel([2458,28,3396,611],{x:{min:-40,max:80,interval:20,n:'{n|C-band  Z}{dn|h}{n|  (dBZ)}',gap:46},y:{min:0,max:10,interval:2,n:'{n|W-band  characteristic  fall  velocity  v}{dn|D}{n|  (m/s)}',gap:52}},coreC,grayC.concat(grayC2,grayC3),siftC.concat(siftC2),fitC,[3106,500]);

// --- bottom row
histPanel([127,730,1030,1345],{fs:27,nameSize:31,x:{min:-.0098,max:1.0105,t:ticksD_X,mg:10,n:'{n|DPC  LWC  (g/m}{up|3}{n|)}',gap:47},y:{min:-.0083,max:1.01,t:ticksD_Y,n:'{n|C-CLD  Water  Content  (g/m}{up|3}{n|)}',gap:60}},rowsD,1/49,1.935,[1045,729,1078,1343],cbTicksD);
histPanel([1297,730,2208,1350],{fs:27,nameSize:31,x:{min:-.0375,max:4.05,t:ticksE,mg:10,n:'{n|DPC  D}{dn|m}{n|  (mm)}',gap:42},y:{min:-.0115,max:4.03,t:ticksE,n:'C-CLD Characteristic Diameter (mm)',gap:56}},rowsE,4/49,1.70,[2222,729,2255,1347],cbTicksE);
histPanel([2449,738,3334,1342],{fs:27,nameSize:34,cbFs:28,x:{min:0,max:10,interval:2,mg:10,n:'Ground Radar - Reconstructed Mean Doppler Velocity (m/s)',gap:50},y:{min:0,max:10,interval:2,n:'C-CD Sedimentation Velocity (m/s)',gap:50}},rowsF,10/39,2.14,[3367,737,3399,1342],cbTicksF);

// --- annotations
note(139,211,'{n|Poly  fit:  LWC  =  8.96e-06  Z}{up|3}{n|  +  1.96e-05  Z}{up|2}{n|  +  -0.00  Z  +  0.00}');
note(139,248,'{n|R}{up|2}{n|  =  0.9477}');
note(139,281,'{n|RMSE  =  0.1081  g/m}{up|3}');
note(1307,201,'{n|Poly  fit:  D}{dn|m}{n|  =  6.70e-06  Z}{up|3}{n|  +  2.64e-04  Z}{up|2}{n|  +  0.02  Z  +  0.52}');
note(1307,240,'{n|R}{up|2}{n|  =  0.9937}');
note(1307,273,'RMSE  =  0.0790  mm');
note(2578,65,'{n|Poly  fit:  v}{dn|D}{n|  =  7.84e-06  Z}{up|3}{n|  +  -6.92e-04  Z}{up|2}{n|  +  0.08  Z  +  2.37}');
note(2578,102,'{n|R}{up|2}{n|  =  0.993}');
note(2578,134,'RMSE  =  0.128  m/s');
note(2470,68,'(c)',43);
wbox(147,755,208,797); note(152,777,'(d)',44);
wbox(238,756,772,833); big(260,795,'Normalized Bias = 80%',44);
wbox(1313,755,1372,797); note(1317,777,'(e)',44);
wbox(1399,756,1953,833); big(1422,795,'Normalized Bias = - 22%',44);
wbox(2459,755,2506,797); note(2461,777,'(f)',44);
wbox(2517,756,3067,833); big(2542,795,'Normalized Bias = - 19%',44);
big(840,996,'Liquid',48,'#ff0000','center');
big(840,1060,'Water',48,'#ff0000','center');
big(840,1125,'content',48,'#ff0000','center');
big(2021,1035,'Characteristic',51,'#ff0000','center');
big(2021,1098,'Diameter',51,'#ff0000','center');
big(2515,894,'Fall Velocity',51,'#ff0000','left');
[[1155,1036],[2329,1039]].forEach(p=>graphic.push({type:'text',x:p[0],y:p[1],rotation:Math.PI/2,z:100,silent:true,
  style:{text:'counts (log scale)',fontSize:31,fontFamily:FONT,fill:TXT,align:'center',verticalAlign:'middle'}}));

const chart=echarts.init(document.getElementById('c'),null,{renderer:'canvas',width:3434,height:1409});
chart.setOption({animation:false,backgroundColor:'#fff',grid,xAxis,yAxis,series,legend,visualMap,graphic,tooltip:{show:false}});
</script></body></html>
